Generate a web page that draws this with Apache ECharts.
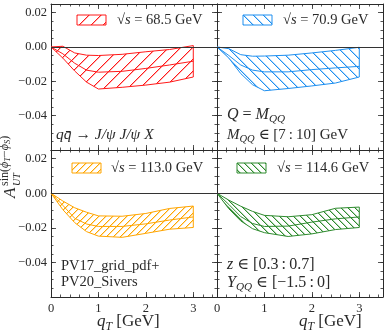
<!DOCTYPE html>
<html>
<head>
<meta charset="utf-8">
<script src="https://cdn.jsdelivr.net/npm/echarts@6/dist/echarts.min.js"></script>
<style>
  html, body { margin: 0; padding: 0; background: #fff; }
  #chart { width: 387px; height: 333px; }
</style>
</head>
<body>
<div id="chart"></div>
<script>
// qT grid (GeV) shared by all four panels
const qT = [0, 0.25, 0.5, 0.75, 1, 1.5, 2, 2.5, 3];

// sqrt(s) = 68.5 GeV
const upper685   = [0, 0.0004, -0.0035, -0.0048, -0.0050, -0.0043, -0.0028, -0.0015, 0.0008];
const central685 = [0, -0.0040, -0.0095, -0.0135, -0.0147, -0.0142, -0.0125, -0.0105, -0.0083];
const lower685   = [0, -0.0065, -0.0140, -0.0205, -0.0245, -0.0235, -0.0222, -0.0205, -0.0175];

// sqrt(s) = 70.9 GeV
const upper709   = [0, -0.0010, -0.0045, -0.0054, -0.0053, -0.0048, -0.0035, -0.0020, -0.0002];
const central709 = [0, -0.0050, -0.0105, -0.0135, -0.0145, -0.0145, -0.0132, -0.0122, -0.0113];
const lower709   = [0, -0.0065, -0.0155, -0.0220, -0.0255, -0.0242, -0.0227, -0.0210, -0.0175];

// sqrt(s) = 113.0 GeV
const upper1130   = [0, -0.0045, -0.0084, -0.0110, -0.0131, -0.0133, -0.0117, -0.0088, -0.0074];
const central1130 = [0, -0.0070, -0.0145, -0.0178, -0.0192, -0.0192, -0.0177, -0.0155, -0.0137];
const lower1130   = [0, -0.0095, -0.0170, -0.0222, -0.0248, -0.0255, -0.0232, -0.0208, -0.0198];

// sqrt(s) = 114.6 GeV
const upper1146   = [0, -0.0040, -0.0075, -0.0105, -0.0128, -0.0136, -0.0124, -0.0087, -0.0080];
const central1146 = [0, -0.0065, -0.0135, -0.0175, -0.0192, -0.0190, -0.0167, -0.0148, -0.0137];
const lower1146   = [0, -0.0090, -0.0160, -0.0205, -0.0228, -0.0250, -0.0235, -0.0210, -0.0198];

const energies = ['68.5', '70.9', '113.0', '114.6'];
const xTickValues = [0, 1, 2, 3];
const yTickValues = [-0.04, -0.02, 0, 0.02];

const FONT = "'Liberation Serif', 'DejaVu Serif', serif";
const INK = '#2a2a2a';

// diagonal hatch tile drawn pixel by pixel so the colour stays saturated
// dir 1 = '/', -1 = '\'
function hatch(color, size, dir) {
  const c = document.createElement('canvas');
  c.width = c.height = size;
  const g = c.getContext('2d');
  g.fillStyle = color;
  for (let y = 0; y < size; y++) {
    const x = dir > 0 ? size - 1 - y : y;
    g.fillRect(x, y, 1, 1);
  }
  g.globalAlpha = 0.35;
  for (let y = 0; y < size; y++) {
    const x = dir > 0 ? (size - y) % size : (y + 1) % size;
    g.fillRect(x, y, 1, 1);
  }
  return { image: c, repeat: 'repeat' };
}

const panels = [
  { upper: upper685,  central: central685,  lower: lower685,  color: '#ff1a1a', hatch: [12, 1] },
  { upper: upper709,  central: central709,  lower: lower709,  color: '#1e8ff0', hatch: [10, -1] },
  { upper: upper1130, central: central1130, lower: lower1130, color: '#ffa500', hatch: [7, 1] },
  { upper: upper1146, central: central1146, lower: lower1146, color: '#2e8b2e', hatch: [7, -1] }
];
panels.forEach(p => { p.fill = hatch(p.color, p.hatch[0], p.hatch[1]); });

const cells = [
  { left: 51,  top: 4,   h: 146 },
  { left: 217, top: 4,   h: 146 },
  { left: 51,  top: 150, h: 147 },
  { left: 217, top: 150, h: 147 }
];

function fmtY(v) {
  const r = Math.round(v * 100) / 100;
  return (r < 0 ? '\u2212' : '') + Math.abs(r).toFixed(2);
}

function xAxisOpt(gridIndex, pos, minor, showLabel) {
  return {
    type: 'value', gridIndex, position: pos,
    min: 0, max: 3.5, interval: minor ? 0.2 : 1,
    axisLine: { show: !minor, onZero: false, lineStyle: { color: INK, width: 1 } },
    axisTick: { show: true, inside: true, length: minor ? 2.5 : 5, lineStyle: { color: INK, width: 0.8 } },
    splitLine: { show: false },
    axisLabel: {
      show: showLabel, margin: 5, color: INK, fontFamily: FONT, fontSize: 12.5,
      showMaxLabel: false,
      formatter: v => (xTickValues.indexOf(v) >= 0 ? String(v) : '')
    }
  };
}

function yAxisOpt(gridIndex, pos, minor, showLabel) {
  return {
    type: 'value', gridIndex, position: pos,
    min: -0.06, max: 0.025, interval: minor ? 0.005 : 0.02,
    axisLine: { show: !minor, onZero: false, lineStyle: { color: INK, width: 1 } },
    axisTick: { show: true, inside: true, length: minor ? 2.5 : 5, lineStyle: { color: INK, width: 0.8 } },
    splitLine: { show: false },
    axisLabel: {
      show: showLabel, margin: 4, color: INK, fontFamily: FONT, fontSize: 12.5,
      showMinLabel: false, showMaxLabel: false,
      formatter: v => (yTickValues.some(t => Math.abs(t - v) < 1e-9) ? fmtY(v) : '')
    }
  };
}

const grids = [], xAxes = [], yAxes = [], series = [];

panels.forEach((p, i) => {
  const c = cells[i];
  const bottomRow = i >= 2, leftCol = i % 2 === 0;
  [false, true].forEach(minor => {
    const g = grids.length;
    grids.push({ left: c.left, top: c.top, width: 166, height: c.h, outerBoundsMode: 'none' });
    xAxes.push(xAxisOpt(g, 'bottom', minor, bottomRow && !minor));
    xAxes.push(xAxisOpt(g, 'top', minor, false));
    yAxes.push(yAxisOpt(g, 'left', minor, leftCol && !minor));
    yAxes.push(yAxisOpt(g, 'right', minor, false));
  });
  const ax = i * 4;

  // hatched uncertainty band: upper edge forward, lower edge back
  series.push({
    type: 'custom',
    coordinateSystem: 'cartesian2d',
    xAxisIndex: ax, yAxisIndex: ax,
    data: [[0, 0]],
    silent: true,
    z: 3,
    renderItem: (params, api) => {
      const pts = [];
      qT.forEach((x, k) => pts.push(api.coord([x, p.upper[k]])));
      for (let k = qT.length - 1; k >= 0; k--) pts.push(api.coord([qT[k], p.lower[k]]));
      return {
        type: 'polygon',
        shape: { points: pts },
        style: { fill: p.fill, stroke: p.color, lineWidth: 1 }
      };
    }
  });

  // central curve + zero line
  series.push({
    type: 'line',
    xAxisIndex: ax, yAxisIndex: ax,
    data: qT.map((x, k) => [x, p.central[k]]),
    symbol: 'none',
    silent: true,
    z: 4,
    lineStyle: { color: p.color, width: 1 },
    markLine: {
      silent: true, symbol: 'none', label: { show: false },
      lineStyle: { color: '#333', width: 1, type: 'solid' },
      data: [{ yAxis: 0 }]
    }
  });
});

// legend boxes + labels
const legendPos = [
  { bx: 77,  by: 15,  tx: 117, ty: 20 },
  { bx: 243, by: 15,  tx: 283, ty: 20 },
  { bx: 72,  by: 163, tx: 111, ty: 168 },
  { bx: 237, by: 163, tx: 277, ty: 168 }
];
const graphics = [];
const LEG = 14.5;
const richBase = {
  n: { fontFamily: FONT, fontSize: LEG, fill: INK },
  i: { fontFamily: FONT, fontSize: LEG, fontStyle: 'italic', fill: INK }
};
panels.forEach((p, i) => {
  const L = legendPos[i];
  graphics.push({
    type: 'rect', x: L.bx, y: L.by, shape: { width: 29, height: 10 },
    style: { fill: p.fill, stroke: p.color, lineWidth: 1 }, silent: true
  });
  graphics.push({
    type: 'text', x: L.tx, y: L.ty, silent: true,
    style: {
      text: '{n|\u221A}{i|s}{n| = ' + energies[i] + ' GeV}',
      rich: richBase, verticalAlign: 'middle', font: LEG + 'px ' + FONT
    }
  });
});

function txt(x, y, text, size) {
  return {
    type: 'text', x, y, silent: true,
    style: {
      text,
      verticalAlign: 'middle',
      font: size + 'px ' + FONT,
      fill: INK,
      rich: {
        n: { fontFamily: FONT, fontSize: size, fill: INK, lineHeight: size + 4 },
        i: { fontFamily: FONT, fontSize: size, fontStyle: 'italic', fill: INK, lineHeight: size + 4 },
        s: { fontFamily: FONT, fontSize: size * 0.7, fontStyle: 'italic', fill: INK, verticalAlign: 'bottom', lineHeight: size + 4 }
      }
    }
  };
}

graphics.push(txt(56, 135, '{i|q}{i|q\u0304} {n|\u2192} {i|J/\u03C8} {i|J/\u03C8} {i|X}', 15.5));
graphics.push(txt(227, 115, '{i|Q}{n| = }{i|M}{s|QQ}', 16));
graphics.push(txt(227, 135, '{i|M}{s|QQ}{n| \u2208 [7\u2009:\u200910] GeV}', 15));
graphics.push(txt(61, 266, '{n|PV17_grid_pdf+}', 14.5));
graphics.push(txt(61, 282, '{n|PV20_Sivers}', 14.5));
graphics.push(txt(227, 265, '{i|z}{n| \u2208 [0.3\u2009:\u20090.7]}', 16));
graphics.push(txt(227, 283, '{i|Y}{s|QQ}{n| \u2208 [\u22121.5\u2009:\u20090]}', 16));

// x axis titles
graphics.push(txt(97, 322, '{i|q}{s|T}{n| [GeV]}', 17));
graphics.push(txt(299, 322, '{i|q}{s|T}{n| [GeV]}', 17));

// y axis title, rotated to read bottom-to-top
graphics.push({
  type: 'group', x: 11, y: 198, rotation: Math.PI / 2, silent: true,
  children: [
    { type: 'text', x: 0, y: 0, style: { text: 'A', font: 'italic 17px ' + FONT, fill: INK, verticalAlign: 'middle' } },
    { type: 'text', x: 12, y: 6, style: { text: 'UT', font: 'italic 10px ' + FONT, fill: INK, verticalAlign: 'middle' } },
    {
      type: 'text', x: 12, y: -6,
      style: {
        text: '{n|sin(}{i|\u03D5}{s|T}{n|\u2212}{i|\u03D5}{s|S}{n|)}',
        verticalAlign: 'middle', font: '12px ' + FONT, fill: INK,
        rich: {
          n: { fontFamily: FONT, fontSize: 12, fill: INK, lineHeight: 14 },
          i: { fontFamily: FONT, fontSize: 12, fontStyle: 'italic', fill: INK, lineHeight: 14 },
          s: { fontFamily: FONT, fontSize: 8.5, fontStyle: 'italic', fill: INK, verticalAlign: 'bottom', lineHeight: 14 }
        }
      }
    }
  ]
});

const chart = echarts.init(document.getElementById('chart'), null, { renderer: 'canvas' });
chart.setOption({
  animation: false,
  backgroundColor: '#fff',
  grid: grids,
  xAxis: xAxes,
  yAxis: yAxes,
  series,
  graphic: graphics
});
</script>
</body>
</html>
